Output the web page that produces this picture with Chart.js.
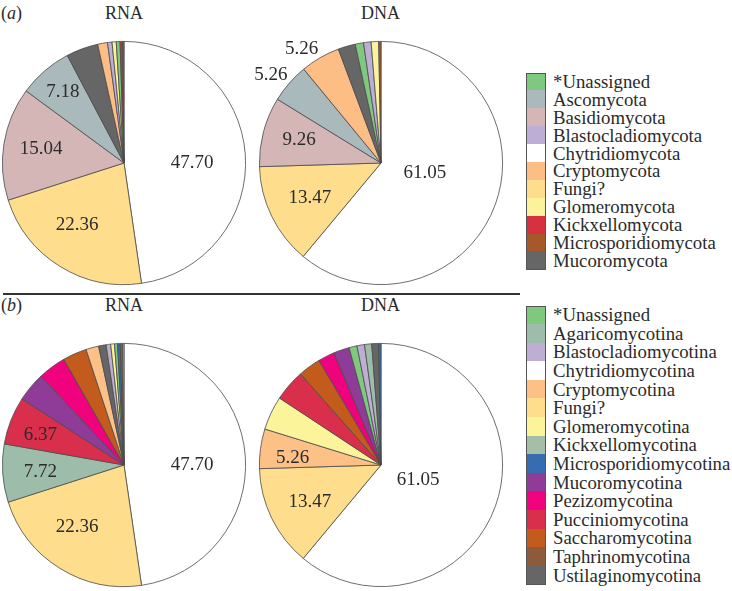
<!DOCTYPE html>
<html>
<head>
<meta charset="utf-8">
<script src="https://cdn.jsdelivr.net/npm/chart.js@4"></script>
<style>
  html, body { margin: 0; padding: 0; background: #fff; }
  #wrap { position: relative; width: 732px; height: 591px; overflow: hidden; background: #fff;
          font-family: "Liberation Serif", "DejaVu Serif", serif; color: #2b2b2b; }
  .t { position: absolute; font-size: 18px; line-height: 18px; white-space: nowrap; }
  .cv { position: absolute; }
  .legend { position: absolute; left: 526px; }
  .row { display: flex; align-items: center; font-size: 18.8px; white-space: nowrap; }
  .sw { width: 18px; border: 1px solid #555; box-sizing: content-box; margin-right: 7px; flex: none; }
  #sep { position: absolute; left: 3px; top: 293px; width: 517px; height: 2px; background: #333; }
</style>
</head>
<body>
<div id="wrap">
  <div class="t" style="left:1px;top:4px;">(<i>a</i>)</div>
  <div class="t" style="left:105px;top:4px;">RNA</div>
  <div class="t" style="left:361px;top:4px;">DNA</div>
  <div id="sep"></div>
  <div class="t" style="left:1px;top:296px;">(<i>b</i>)</div>
  <div class="t" style="left:105px;top:296px;">RNA</div>
  <div class="t" style="left:361px;top:296px;">DNA</div>

  <canvas id="aRNA" class="cv" width="260" height="260" style="left:-6px;top:33px;"></canvas>
  <canvas id="aDNA" class="cv" width="260" height="260" style="left:251px;top:33px;"></canvas>
  <canvas id="bRNA" class="cv" width="260" height="260" style="left:-6px;top:335px;"></canvas>
  <canvas id="bDNA" class="cv" width="260" height="260" style="left:251px;top:335px;"></canvas>

  <div id="legA" class="legend" style="top:73px;"></div>
  <div id="legB" class="legend" style="top:306px;"></div>
</div>
<script>
// ---------------- DATA ----------------
// (a) phylum level, legend order
const phylaCategories = ["*Unassigned", "Ascomycota", "Basidiomycota", "Blastocladiomycota",
  "Chytridiomycota", "Cryptomycota", "Fungi?", "Glomeromycota", "Kickxellomycota",
  "Microsporidiomycota", "Mucoromycota"];
const phylaColors = ["#7fc97f", "#a9b9bc", "#d4b6b7", "#bdaed6", "#ffffff", "#fdbe85",
  "#fedd8d", "#faf39b", "#d7303f", "#a7582a", "#666666"];
const phylaRNA = [0.5, 7.18, 15.04, 0.6, 47.70, 1.3, 22.36, 0.55, 0.3, 0.22, 4.25];
const phylaDNA = [1.1, 5.26, 9.26, 1.0, 61.05, 5.26, 13.47, 1.0, 0, 0.3, 2.3];

// (b) subphylum level, legend order
const subCategories = ["*Unassigned", "Agaricomycotina", "Blastocladiomycotina", "Chytridiomycotina",
  "Cryptomycotina", "Fungi?", "Glomeromycotina", "Kickxellomycotina", "Microsporidiomycotina",
  "Mucoromycotina", "Pezizomycotina", "Pucciniomycotina", "Saccharomycotina",
  "Taphrinomycotina", "Ustilaginomycotina"];
const subColors = ["#7fc97f", "#9ebcaa", "#beaed4", "#ffffff", "#fdc086", "#fedd8c", "#fbf49a",
  "#a4bea8", "#386cb0", "#8f3b98", "#f0027f", "#d92f4c", "#c25b1c", "#8c5b3d", "#666666"];
const subRNA = [0.4, 7.72, 0.6, 47.70, 1.7, 22.36, 0.5, 0.2, 0.35, 3.9, 3.7, 6.37, 3.2, 0.3, 1.0];
const subDNA = [1.05, 0.95, 1.0, 61.05, 5.26, 13.47, 4.5, 0, 0.32, 2.1, 2.2, 4.2, 3.0, 0, 0.9];

// ---------------- label placement (style) ----------------
const labelStyle = {
  aRNA: { "Chytridiomycota": [0.56, 4], "Fungi?": [0.64, 5], "Basidiomycota": [0.69, 0], "Ascomycota": [0.77, 0] },
  aDNA: { "Chytridiomycota": [0.37, -7], "Fungi?": [0.65, 0], "Basidiomycota": [0.70, 1],
          "Ascomycota": [1.16, -2.4], "Cryptomycota": [1.14, -5] },
  bRNA: { "Chytridiomycotina": [0.56, 4], "Fungi?": [0.64, 5], "Agaricomycotina": [0.69, -1], "Pucciniomycotina": [0.73, -2] },
  bDNA: { "Chytridiomycotina": [0.33, 2], "Fungi?": [0.66, -1.5], "Cryptomycotina": [0.73, -3] }
};

function buildPie(cats, cols, vals) {
  const idx = cats.map((c, i) => i).filter(i => vals[i] > 0);
  idx.sort((a, b) => vals[b] - vals[a]);
  return {
    labels: idx.map(i => cats[i]),
    data: idx.map(i => vals[i]),
    colors: idx.map(i => cols[i])
  };
}

const sliceLabels = {
  id: 'sliceLabels',
  afterDatasetsDraw(chart, args, opts) {
    const spec = opts.spec || {};
    const ctx = chart.ctx;
    const meta = chart.getDatasetMeta(0);
    const ds = chart.data.datasets[0];
    ctx.save();
    ctx.font = '19px "Liberation Serif", serif';
    ctx.fillStyle = '#2b2b2b';
    ctx.textAlign = 'center';
    ctx.textBaseline = 'middle';
    chart.data.labels.forEach((lab, i) => {
      const s = spec[lab];
      if (!s) return;
      const arc = meta.data[i];
      const mid = (arc.startAngle + arc.endAngle) / 2 + s[1] * Math.PI / 180;
      const r = arc.outerRadius * s[0];
      ctx.fillText(ds.data[i].toFixed(2), arc.x + Math.cos(mid) * r, arc.y + Math.sin(mid) * r);
    });
    ctx.restore();
  }
};

function makeChart(id, cats, cols, vals) {
  const p = buildPie(cats, cols, vals);
  new Chart(document.getElementById(id), {
    type: 'pie',
    data: {
      labels: p.labels,
      datasets: [{ data: p.data, backgroundColor: p.colors, borderColor: '#4a4a4a', borderWidth: 0.8 }]
    },
    options: {
      responsive: false,
      animation: false,
      layout: { padding: 8 },
      plugins: {
        legend: { display: false },
        tooltip: { enabled: false },
        sliceLabels: { spec: labelStyle[id] }
      }
    },
    plugins: [sliceLabels]
  });
}

makeChart('aRNA', phylaCategories, phylaColors, phylaRNA);
makeChart('aDNA', phylaCategories, phylaColors, phylaDNA);
makeChart('bRNA', subCategories, subColors, subRNA);
makeChart('bDNA', subCategories, subColors, subDNA);

function makeLegend(id, cats, cols, rowH) {
  const el = document.getElementById(id);
  cats.forEach((c, i) => {
    const row = document.createElement('div');
    row.className = 'row';
    row.style.height = rowH + 'px';
    const sw = document.createElement('div');
    sw.className = 'sw';
    sw.style.background = cols[i];
    if (i > 0) { sw.style.borderTop = 'none'; sw.style.height = rowH + 'px'; }
    else { sw.style.height = (rowH - 1) + 'px'; }
    const tx = document.createElement('span');
    tx.textContent = c;
    row.appendChild(sw); row.appendChild(tx);
    el.appendChild(row);
  });
}
makeLegend('legA', phylaCategories, phylaColors, 17.9);
makeLegend('legB', subCategories, subColors, 18.6);
</script>
</body>
</html>
